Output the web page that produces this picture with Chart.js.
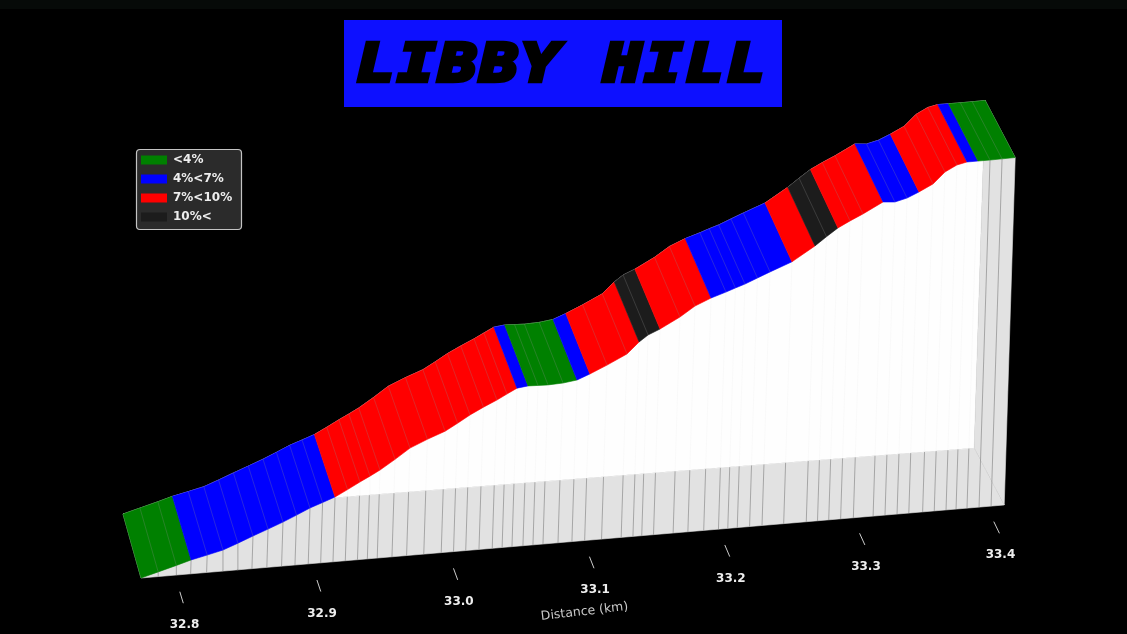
<!DOCTYPE html>
<html><head><meta charset="utf-8">
<script src="https://cdn.jsdelivr.net/npm/chart.js@4"></script>
<style>
html,body{margin:0;padding:0;background:#000;width:1127px;height:634px;overflow:hidden}
#wrap{position:relative;width:1127px;height:634px}
canvas{position:absolute;left:0;top:0}
#band{position:absolute;left:0;top:0;width:1127px;height:9px;background:#060a08;z-index:2}
#title{position:absolute;left:344px;top:20px;width:438px;height:87px;background:#0d10ff;color:#000;z-index:2;text-align:center;white-space:nowrap}
#title span{display:inline-block;font:italic bold 52px/87px "DejaVu Sans Mono";letter-spacing:3px;-webkit-text-stroke:4.5px #000;transform:scaleX(1.2)}
</style></head><body>
<div id="wrap"><canvas id="c" width="1127" height="634"></canvas><div id="band"></div><div id="title"><span>LIBBY HILL</span></div></div>
<script>
const profileKm=[32.776,32.7886,32.8019,32.8127,32.8245,32.8361,32.847,32.858,32.869,32.8799,32.8898,32.8996,32.9088,32.9179,32.927,32.936,32.9433,32.9506,32.9615,32.9723,32.985,32.9979,33.007,33.016,33.0258,33.0356,33.0429,33.0502,33.0583,33.0657,33.0731,33.0842,33.0945,33.1039,33.1164,33.1309,33.1396,33.1461,33.1548,33.1693,33.1802,33.1919,33.2028,33.2097,33.2167,33.2258,33.235,33.251,33.2677,33.276,33.2843,33.2931,33.3025,33.3171,33.3259,33.3348,33.3435,33.3537,33.3623,33.371,33.3784,33.3865,33.3954,33.4043,33.414];
const profileElevation=[0,0.6,1.24,1.79,2.25,2.73,3.45,4.22,4.95,5.7,6.45,7.23,7.8,8.38,9.2,10.05,10.7,11.38,12.6,13.9,14.85,15.7,16.6,17.54,18.4,19.18,19.85,20.5,20.67,20.62,20.58,20.66,20.9,21.54,22.5,23.73,25.15,25.96,26.6,27.94,29.2,30.06,30.67,31.1,31.5,32.15,32.8,33.87,35.68,36.75,37.76,38.54,39.3,40.63,40.5,40.88,41.54,42.42,43.84,44.62,44.9,44.9,44.9,44.92,44.95];
const segmentEndKm=[32.8127,32.9179,33.0502,33.0583,33.0945,33.1039,33.1396,33.1548,33.1919,33.251,33.2677,33.2843,33.3171,33.3435,33.3784,33.3865,33.414];
const segmentClass=[0,1,2,1,0,1,2,3,2,1,2,3,2,1,2,1,0];
const gradeLabels=['<4%','4%<7%','7%<10%','10%<'];
const gradeColors=['#008000','#0000ff','#ff0000','#1c1c1c'];
const tickKm=[32.8,32.9,33.0,33.1,33.2,33.3,33.4];
const tickLabels=['32.8','32.9','33.0','33.1','33.2','33.3','33.4'];
const axisTitle='Distance (km)';

const kmStart=profileKm[0],kmEnd=profileKm[profileKm.length-1];
const frac=km=>(km-kmStart)/(kmEnd-kmStart);
function project(km,elev,depth){
  const t=frac(km),xf=141+(km-kmStart)*1353,yf=578-0.0846*(xf-141),h=7.73*elev;
  return {x:xf+0.0316*h+depth*(-18-12*t),y:yf-h+depth*(-64+7*t)};
}
const gap={x:NaN,y:NaN};
const topEnd=profileElevation[profileElevation.length-1];
const poly=(label,pts,color)=>({label,data:[...pts,pts[0]],showLine:true,pointRadius:0,borderColor:color,backgroundColor:color,borderWidth:0.6,fill:'shape',tension:0});
const lines=(label,pts,color,w)=>({label,data:pts,showLine:true,pointRadius:0,borderColor:color,borderWidth:w,fill:false,spanGaps:false,tension:0});

const datasets=[];
datasets.push(poly('floor',[project(kmStart,0,0),project(kmEnd,0,0),project(kmEnd,0,1),project(kmStart,0,1)],'#e2e2e2'));
const ff0=project(kmStart,0,1),ff1=project(kmEnd,0,1);
datasets.push(poly('far wall',[ff0,...profileKm.map((k,i)=>project(k,profileElevation[i],1)),ff1],'#fefefe'));
datasets.push(poly('end wall',[project(kmEnd,0,0),project(kmEnd,topEnd,0),project(kmEnd,topEnd,1),ff1],'#e2e2e2'));
// wall ribs: strong over the grey faces, faint over the white one
const strong=[],faint=[];
profileKm.forEach((k,i)=>{
  const a=project(k,0,0),b=project(k,profileElevation[i],0);
  if(i===0||i===profileKm.length-1)return;
  const lineY=x=>ff0.y+(x-ff0.x)*(ff1.y-ff0.y)/(ff1.x-ff0.x);
  const wallX=ff1.x+(project(kmEnd,topEnd,1).x-ff1.x)*(ff1.y-b.y)/(ff1.y-project(kmEnd,topEnd,1).y);
  if(b.y>lineY(b.x)||b.x>wallX){strong.push(a,b,gap);return;}
  const yc=lineY(a.x),s=(a.y-yc)/(a.y-b.y),m={x:a.x+(b.x-a.x)*s,y:yc};
  strong.push(a,m,gap);faint.push(m,b,gap);
});
datasets.push(lines('ribs on floor',strong,'rgba(125,125,125,0.6)',1));
datasets.push(lines('ribs on wall',faint,'rgba(238,238,238,0.5)',0.6));
// coloured road ribbon
let startKm=kmStart;
segmentEndKm.forEach((end,si)=>{
  const idx=profileKm.map((k,i)=>i).filter(i=>profileKm[i]>=startKm-1e-9&&profileKm[i]<=end+1e-9);
  const near=idx.map(i=>project(profileKm[i],profileElevation[i],0));
  const far=idx.map(i=>project(profileKm[i],profileElevation[i],1)).reverse();
  datasets.push(poly(gradeLabels[segmentClass[si]],[...near,...far],gradeColors[segmentClass[si]]));
  startKm=end;
});
const cuts=[];
profileKm.forEach((k,i)=>{
  if(i===0||i===profileKm.length-1||segmentEndKm.includes(k))return;
  cuts.push(project(k,profileElevation[i],0),project(k,profileElevation[i],1),gap);
});
datasets.push(lines('ribbon ribs',cuts,'rgba(140,140,140,0.4)',0.7));
// tick marks
const bow=t=>12*t*(1-t);
const tickPts=[];
tickKm.forEach(k=>{
  const f=project(k,0,0),t=frac(k);
  tickPts.push({x:f.x+bow(t)+5.8+2.5*t,y:f.y+16.5-1.5*t},{x:f.x+bow(t)+9.2+4.8*t,y:f.y+28-1.3*t},gap);
});
datasets.push(lines('ticks',tickPts,'#cccccc',1));
datasets.reverse(); // Chart.js paints the first dataset last

const overlay={id:'overlay',
  afterLayout(chart){
    const l=chart.legend;
    l.left=134;l.right=241;l.top=147;l.bottom=634;
  },
  beforeDraw(chart){
    const c=chart.ctx,x=136.5,y=149.5,w=105,h=80,r=3.5;
    c.save();c.fillStyle='#000';c.fillRect(0,0,chart.width,chart.height);
    c.beginPath();c.roundRect(x,y,w,h,r);c.fillStyle='#2b2b2b';c.fill();c.strokeStyle='#c4c4c4';c.lineWidth=1.2;c.stroke();c.restore();
  },
  afterDraw(chart){
    const c=chart.ctx,sx=chart.scales.x,sy=chart.scales.y;
    c.save();c.textAlign='center';c.textBaseline='middle';
    c.font='bold 12px "DejaVu Sans"';c.fillStyle='#eeeeee';
    tickKm.forEach((k,i)=>{
      const f=project(k,0,0),t=frac(k);
      c.fillText(tickLabels[i],sx.getPixelForValue(f.x+bow(t)+10.5+4.5*t),sy.getPixelForValue(f.y+50-1.5*t));
    });
    c.font='12.5px "DejaVu Sans"';c.fillStyle='#c8c8c8';
    const m=project(33.1275,0,0);
    c.translate(sx.getPixelForValue(m.x-32),sy.getPixelForValue(m.y+74));c.rotate(-6.7*Math.PI/180);
    c.fillText(axisTitle,0,0);c.restore();
  }};

new Chart(document.getElementById('c'),{type:'scatter',data:{datasets},plugins:[overlay],options:{
  responsive:false,animation:false,devicePixelRatio:1,
  layout:{padding:0},
  elements:{line:{borderCapStyle:'butt'}},
  scales:{x:{type:'linear',min:0,max:1127,display:false},y:{type:'linear',min:0,max:634,reverse:true,display:false}},
  plugins:{title:{display:false},tooltip:{enabled:false},
    legend:{display:true,position:'chartArea',align:'start',
      labels:{boxWidth:26,boxHeight:9,padding:7,color:'#eeeeee',font:{family:'DejaVu Sans',size:12,weight:'bold'},
        generateLabels:()=>gradeLabels.map((t,i)=>({text:t,fillStyle:gradeColors[i],strokeStyle:gradeColors[i],lineWidth:0,fontColor:'#eeeeee',hidden:false,datasetIndex:0}))}}}
}});
</script></body></html>
